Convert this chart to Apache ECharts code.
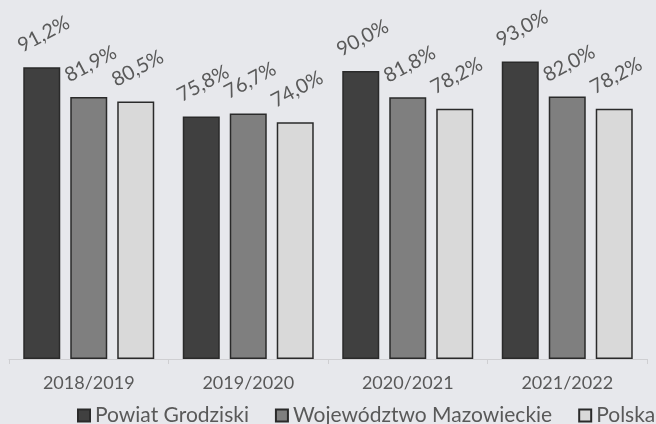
<!DOCTYPE html>
<html>
<head>
<meta charset="utf-8">
<script src="https://cdn.jsdelivr.net/npm/echarts@6/dist/echarts.min.js"></script>
<style>
html, body { margin: 0; padding: 0; background: #e7e8ec; }
#main { width: 656px; height: 424px; }
</style>
</head>
<body>
<div id="main"></div>
<script>
var years = ['2018/2019', '2019/2020', '2020/2021', '2021/2022'];
var powiat = [91.2, 75.8, 90.0, 93.0];
var mazowieckie = [81.9, 76.7, 81.8, 82.0];
var polska = [80.5, 74.0, 78.2, 78.2];

var FONT = 'Lato';

// etykieta nad słupkiem, obrócona
function pct(p) {
    return p.value.toFixed(1).replace('.', ',') + '%';
}
function mkSeries(name, data, color) {
    return {
        name: name,
        type: 'bar',
        data: data,
        barWidth: 37,
        barGap: '27%',
        itemStyle: { color: color, borderColor: '#2a2a2a', borderWidth: 1.5 },
        label: {
            show: true,
            position: ['55%', -33],
            align: 'center',
            verticalAlign: 'middle',
            rotate: 28,
            formatter: pct,
            color: '#595959',
            fontFamily: FONT,
            fontSize: 20
        }
    };
}

var chart = echarts.init(document.getElementById('main'));
chart.setOption({
    backgroundColor: '#e7e8ec',
    animation: false,
    grid: { left: 9, right: 9, top: 39, bottom: 65 },
    legend: {
        left: 77,
        top: 405,
        width: 590,
        padding: 0,
        itemWidth: 12,
        itemHeight: 12,
        itemGap: 26,
        icon: 'rect',
        textStyle: { color: '#595959', fontFamily: FONT, fontSize: 21 },
        data: ['Powiat Grodziski', 'Województwo Mazowieckie', 'Polska']
    },
    xAxis: {
        type: 'category',
        data: years,
        axisLine: { lineStyle: { color: '#cfcfd2', width: 1 } },
        axisTick: { show: true, length: 5, lineStyle: { color: '#cfcfd2' } },
        axisLabel: { color: '#595959', fontFamily: FONT, fontSize: 18, margin: 15 }
    },
    yAxis: {
        type: 'value',
        min: 0,
        max: 100,
        show: false,
        splitLine: { show: false }
    },
    series: [
        mkSeries('Powiat Grodziski', powiat, '#404040'),
        mkSeries('Województwo Mazowieckie', mazowieckie, '#7f7f7f'),
        mkSeries('Polska', polska, '#d9d9d9')
    ]
});
</script>
</body>
</html>
